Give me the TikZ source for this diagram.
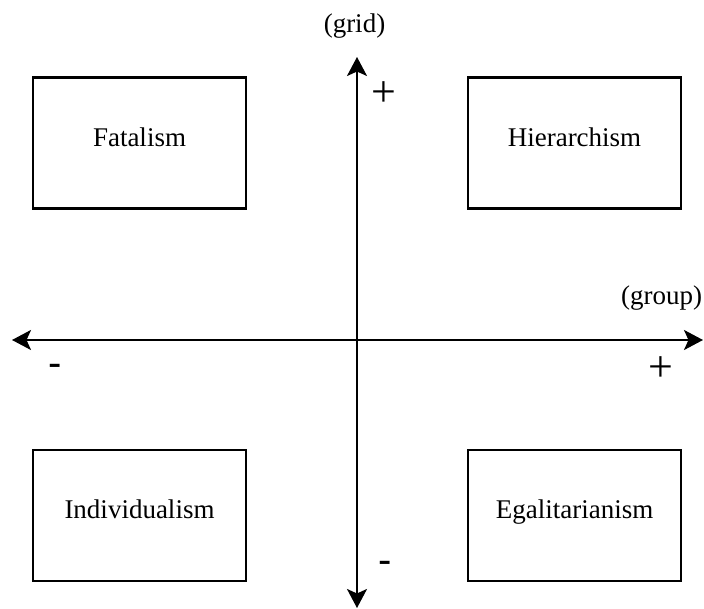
\documentclass[tikz,border=0pt]{standalone}
\usepackage{fontspec}
\setmainfont{Liberation Serif}
\newfontfamily\dashfont{Liberation Sans}
\usetikzlibrary{arrows.meta}
\begin{document}
\begin{tikzpicture}[x=1pt,y=-1pt,
  quad/.style={draw,line width=2.2pt,minimum width=213pt,minimum height=131pt,inner sep=0pt,font=\fontsize{27}{32}\selectfont,text height=0.68em,text depth=0pt},
  axis/.style={line width=2.2pt,{Stealth[length=19pt,width=20pt,inset=4.5pt]}-{Stealth[length=19pt,width=20pt,inset=4.5pt]}},
  lbl/.style={inner sep=0pt,anchor=base,font=\fontsize{27}{32}\selectfont},
  plus/.style={inner sep=0pt,font=\fontsize{44}{50}\selectfont},
  minus/.style={inner sep=0pt,anchor=base,font=\dashfont\fontsize{40}{46}\selectfont}]
\useasboundingbox (0,0) rectangle (704,609);
\node[quad] (fat) at (139.5,143) {Fatalism};
\node[quad] (hie) at (574.5,143) {Hierarchism};
\node[quad] (ind) at (139.5,515.5) {Individualism};
\node[quad] (ega) at (574.5,515.5) {Egalitarianism};
\coordinate (top) at (357,57);
\coordinate (bot) at (357,608);
\coordinate (lft) at (12,340);
\coordinate (rgt) at (703,340);
\draw[axis] (lft) -- (rgt);
\draw[axis] (bot) -- (top);
\node[lbl] (grid) at (354.5,33) {(grid)};
\node[lbl] (group) at (661.5,305) {(group)};
\node[plus] (gp) at (384,94) {+};
\node[plus] (xp) at (661,369) {+};
\node[minus] (xm) at (55,377) {-};
\node[minus] (ym) at (385,573) {-};
\end{tikzpicture}
\end{document}
